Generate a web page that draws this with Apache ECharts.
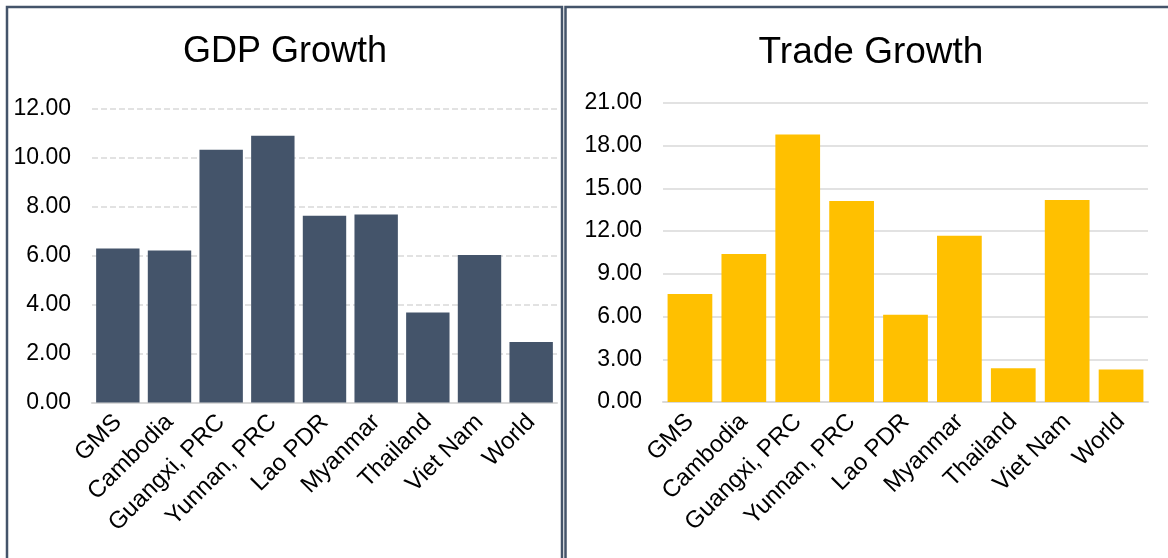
<!DOCTYPE html>
<html>
<head>
<meta charset="utf-8">
<script src="https://cdn.jsdelivr.net/npm/echarts@6/dist/echarts.min.js"></script>
<style>
  html, body { margin: 0; padding: 0; background: #fff; }
  #main { width: 1168px; height: 558px; }
</style>
</head>
<body>
<div id="main"></div>
<script>
// categories shared by both panels
const regions = ['GMS', 'Cambodia', 'Guangxi, PRC', 'Yunnan, PRC', 'Lao PDR', 'Myanmar', 'Thailand', 'Viet Nam', 'World'];
// growth values (%)
const gdpGrowth = [6.29, 6.20, 10.32, 10.89, 7.62, 7.67, 3.67, 6.02, 2.47];
const tradeGrowth = [7.59, 10.39, 18.78, 14.11, 6.12, 11.67, 2.37, 14.18, 2.28];

const chart = echarts.init(document.getElementById('main'), null, { renderer: 'canvas' });

const font = '"Liberation Sans", Arial, sans-serif';
const labelStyle = { color: '#000', fontSize: 23, fontFamily: font };

const xAxisBase = (gridIndex) => ({
  type: 'category',
  gridIndex: gridIndex,
  data: regions,
  axisTick: { show: false },
  axisLine: { show: true, lineStyle: { color: '#d9d9d9', width: 2 } },
  axisLabel: Object.assign({ rotate: 45, margin: 16, interval: 0 }, labelStyle, { fontSize: 24 })
});

const option = {
  backgroundColor: '#fff',
  animation: false,
  graphic: [
    { type: 'rect', shape: { x: 7, y: 7, width: 555, height: 620 },
      style: { fill: 'none', stroke: '#44546a', lineWidth: 2.5 } },
    { type: 'rect', shape: { x: 565.5, y: 7, width: 700, height: 620 },
      style: { fill: 'none', stroke: '#44546a', lineWidth: 2.5 } }
  ],
  title: [
    { text: 'GDP Growth', left: 280, top: 29, textAlign: 'center',
      textStyle: { fontSize: 36, fontWeight: 'normal', color: '#000', fontFamily: font } },
    { text: 'Trade Growth', left: 866, top: 29, textAlign: 'center',
      textStyle: { fontSize: 37, fontWeight: 'normal', color: '#000', fontFamily: font } }
  ],
  grid: [
    { left: 92, top: 108.5, width: 465, height: 294, containLabel: false },
    { left: 663, top: 103, width: 485, height: 299, containLabel: false }
  ],
  xAxis: [xAxisBase(0), xAxisBase(1)],
  yAxis: [
    {
      type: 'value', gridIndex: 0, min: 0, max: 12, interval: 2,
      axisLine: { show: false }, axisTick: { show: false },
      axisLabel: Object.assign({ margin: 21, formatter: (v) => v.toFixed(2) }, labelStyle),
      splitLine: { lineStyle: { color: '#d9d9d9', width: 1.5, type: [6, 3] } }
    },
    {
      type: 'value', gridIndex: 1, min: 0, max: 21, interval: 3,
      axisLine: { show: false }, axisTick: { show: false },
      axisLabel: Object.assign({ margin: 21, formatter: (v) => v.toFixed(2) }, labelStyle),
      splitLine: { lineStyle: { color: '#d9d9d9', width: 1.5 } }
    }
  ],
  series: [
    {
      name: 'GDP Growth', type: 'bar', xAxisIndex: 0, yAxisIndex: 0,
      barCategoryGap: '16%',
      itemStyle: { color: '#44546a' },
      data: gdpGrowth
    },
    {
      name: 'Trade Growth', type: 'bar', xAxisIndex: 1, yAxisIndex: 1,
      barCategoryGap: '17%',
      itemStyle: { color: '#ffc000' },
      data: tradeGrowth
    }
  ]
};

chart.setOption(option);
</script>
</body>
</html>
